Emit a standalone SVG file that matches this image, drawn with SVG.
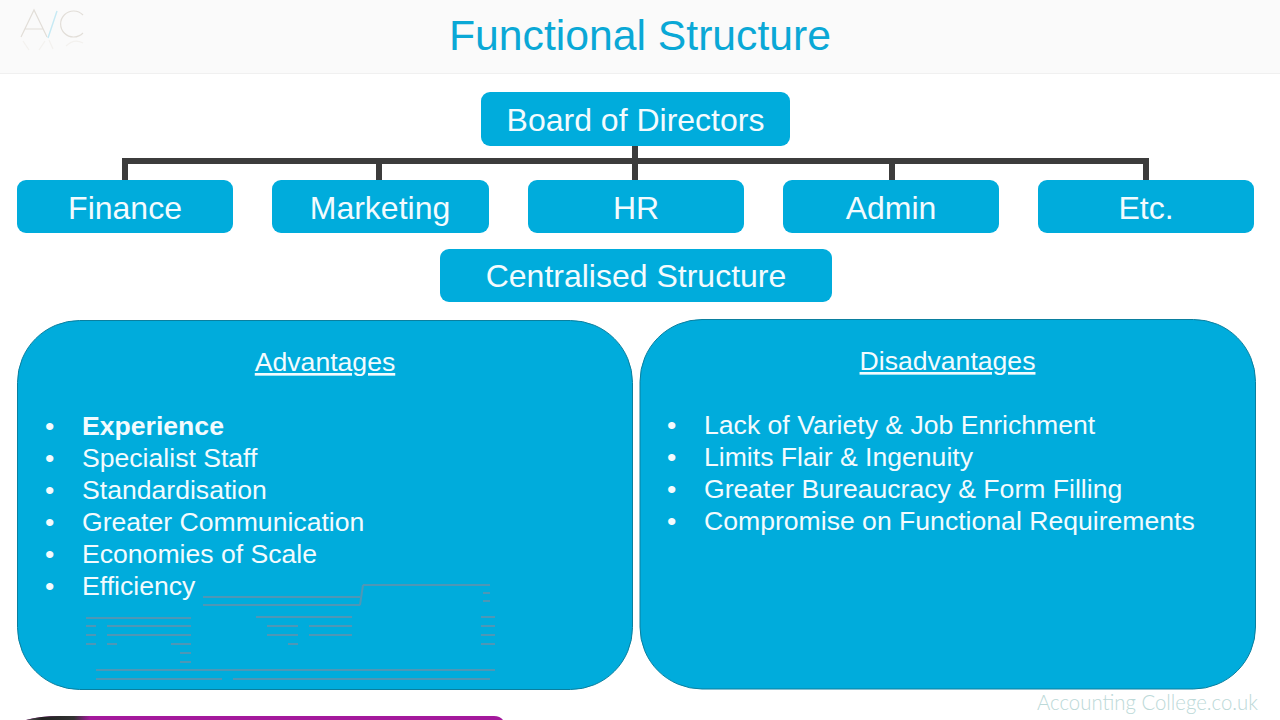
<svg xmlns="http://www.w3.org/2000/svg" width="1280" height="720" viewBox="0 0 1280 720">
<defs>
<linearGradient id="barFade" x1="0" x2="1" y1="0" y2="0">
<stop offset="0" stop-color="#555"/><stop offset=".25" stop-color="#222"/><stop offset=".75" stop-color="#333"/><stop offset="1" stop-color="#a4199c"/>
</linearGradient>
</defs>
<style>
text{font-family:"Liberation Sans",Arial,sans-serif;fill:#f3fbfe}
.box{fill:#00acdc}
.big{stroke:#0a7f9f;stroke-width:1}
.n{font-size:32px;text-anchor:middle}
.l{font-size:26.600px}
.h{font-size:26.600px;text-anchor:middle;text-decoration:underline}
.c{fill:none;stroke:#3c3c3c;stroke-width:6}
.g{fill:none;stroke:#6f8fa5;stroke-width:2;opacity:.7}
.w{font-family:"Lato","Open Sans",sans-serif;font-weight:300}
</style>
<rect width="1280" height="720" fill="#fff"/>
<g id="header">
<rect width="1280" height="73" fill="#fafafa"/>
<path d="M0 73.500H1280" stroke="#f0f0f0"/>
<text x="640" y="50" font-size="42.700" text-anchor="middle" style="fill:#0aa8d6">Functional Structure</text>
</g>
<g id="logo">
<path d="M21 37L34 10L47 37M25.500 29H43" fill="none" stroke="#e2ded8" stroke-width="1.200"/>
<path d="M48 38L57 11" fill="none" stroke="#c6e9f4" stroke-width="1.400"/>
<path d="M83 15A13 13 0 1 0 83 33" fill="none" stroke="#e2ded8" stroke-width="1.200"/>
<path d="M23 41L29 50M45 41L39 50M49 40L53 49M66 46Q74 38 83 43" fill="none" stroke="#f3f1ee" stroke-width="1.200"/>
</g>
<g id="connectors">
<path class="c" d="M125 180V161H1146V180M379 161V180M635 146V180M892 161V180"/>
</g>
<g id="board"><rect class="box" x="481" y="92" width="309" height="54" rx="9"/><text class="n" x="635.500" y="131">Board of Directors</text></g>
<g id="finance"><rect class="box" x="17" y="180" width="216" height="53" rx="9"/><text class="n" x="125" y="219">Finance</text></g>
<g id="marketing"><rect class="box" x="272" y="180" width="217" height="53" rx="9"/><text class="n" x="380" y="219">Marketing</text></g>
<g id="hr"><rect class="box" x="528" y="180" width="216" height="53" rx="9"/><text class="n" x="636" y="219">HR</text></g>
<g id="admin"><rect class="box" x="783" y="180" width="216" height="53" rx="9"/><text class="n" x="891" y="219">Admin</text></g>
<g id="etc"><rect class="box" x="1038" y="180" width="216" height="53" rx="9"/><text class="n" x="1146" y="219">Etc.</text></g>
<g id="centralised"><rect class="box" x="440" y="249" width="392" height="53" rx="9"/><text class="n" x="636" y="287">Centralised Structure</text></g>
<g id="advantages">
<rect class="box big" x="17.500" y="320.500" width="615" height="369" rx="62"/>
<text class="h" x="325" y="371">Advantages</text>
<text class="l" x="45" y="435">•</text><text class="l" x="82" y="435" font-weight="bold">Experience</text>
<text class="l" x="45" y="467">•</text><text class="l" x="82" y="467">Specialist Staff</text>
<text class="l" x="45" y="499">•</text><text class="l" x="82" y="499">Standardisation</text>
<text class="l" x="45" y="531">•</text><text class="l" x="82" y="531">Greater Communication</text>
<text class="l" x="45" y="563">•</text><text class="l" x="82" y="563">Economies of Scale</text>
<text class="l" x="45" y="595">•</text><text class="l" x="82" y="595">Efficiency</text>
<path class="g" d="M363 585H490M203 597H360M203 605H360M360 605L363 585M483 593H490M483 601H490M86 618H191M256 617H352M481 617H495M86 626H96M107 626H191M267 626H298M309 626H352M481 626H495M86 635H96M107 635H191M267 635H298M309 635H352M481 635H495M86 644H96M107 644H117M171 644H191M288 644H298M481 644H495M180 653H191M180 662H191"/>
<path class="g" stroke-width="1.200" d="M96 670H495M96 679H222M233 679H490"/>
</g>
<g id="disadvantages">
<rect class="box big" x="640" y="319.500" width="615.500" height="369.500" rx="62"/>
<text class="h" x="947.500" y="370">Disadvantages</text>
<text class="l" x="667" y="434">•</text><text class="l" x="704" y="434">Lack of Variety &amp; Job Enrichment</text>
<text class="l" x="667" y="466">•</text><text class="l" x="704" y="466">Limits Flair &amp; Ingenuity</text>
<text class="l" x="667" y="498">•</text><text class="l" x="704" y="498">Greater Bureaucracy &amp; Form Filling</text>
<text class="l" x="667" y="530">•</text><text class="l" x="704" y="530">Compromise on Functional Requirements</text>
</g>
<g id="bottom-bar">
<path d="M26 720Q40 716 60 716H494Q500 716 503 720Z" fill="#a4199c"/>
<path d="M26 720Q40 716 60 716H90V720Z" fill="url(#barFade)"/>
</g>
<g id="watermark">
<text class="w" x="1037" y="710" font-size="22" textLength="221" lengthAdjust="spacingAndGlyphs" style="fill:#bcd9d8">Accounting College.co.uk</text>
</g>
</svg>
